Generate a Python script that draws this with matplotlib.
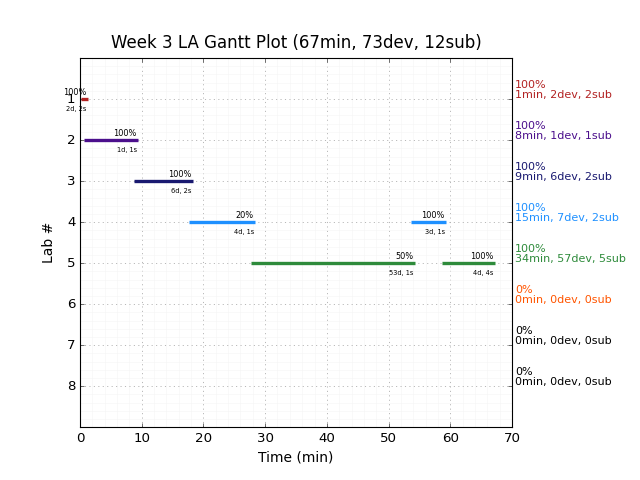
import matplotlib
matplotlib.use("Agg")
import matplotlib.pyplot as plt
from matplotlib.ticker import AutoMinorLocator

plt.style.use("classic")

title = "Week 3 LA Gantt Plot (67min, 73dev, 12sub)"
labs = [1, 2, 3, 4, 4, 5, 5]
starts = [0.2, 0.7, 8.8, 17.7, 53.6, 27.7, 58.7]
ends = [1.3, 9.4, 18.3, 28.4, 59.3, 54.3, 67.2]
pcts = ["100%", "100%", "100%", "20%", "100%", "50%", "100%"]
counts = ["2d, 2s", "1d, 1s", "6d, 2s", "4d, 1s", "3d, 1s", "53d, 1s", "4d, 4s"]

lab_colors = ["#b22222", "#4b0f8c", "#191970", "#1e90ff", "#2e8b3b",
              "#ff5500", "black", "black"]
side_pct = ["100%", "100%", "100%", "100%", "100%", "0%", "0%", "0%"]
side_info = ["1min, 2dev, 2sub", "8min, 1dev, 1sub", "9min, 6dev, 2sub",
             "15min, 7dev, 2sub", "34min, 57dev, 5sub", "0min, 0dev, 0sub",
             "0min, 0dev, 0sub", "0min, 0dev, 0sub"]

fig = plt.figure(figsize=(8, 6), dpi=80, facecolor="white")
ax = fig.add_axes([0.125, 0.11, 0.675, 0.769])

for lab, s, e, p, c in zip(labs, starts, ends, pcts, counts):
    col = lab_colors[lab - 1]
    ax.plot([s, e], [lab, lab], color=col, linewidth=3, solid_capstyle="butt")
    ax.text(e - 0.2, lab - 0.06, p, ha="right", va="bottom", fontsize=7.3)
    ax.text(e - 0.2, lab + 0.17, c, ha="right", va="top", fontsize=6)

for i in range(8):
    ax.text(70.5, i + 1 - 0.22, side_pct[i] + "\n" + side_info[i],
            color=lab_colors[i], ha="left", va="center", fontsize=10,
            linespacing=0.95)

ax.set_xlim(0, 70)
ax.set_ylim(9, 0)
ax.set_yticks(range(1, 9))
ax.set_xticks(range(0, 71, 10))
ax.xaxis.set_minor_locator(AutoMinorLocator())
ax.yaxis.set_minor_locator(AutoMinorLocator())
ax.tick_params(which="minor", length=0)
ax.grid(which="major", color="#b0b0b0", linestyle=":", linewidth=0.8)
ax.grid(which="minor", color="#f5f5f5", linestyle="-", linewidth=0.5)
ax.set_axisbelow(True)
ax.set_xlabel("Time (min)", fontsize=12.5)
ax.set_ylabel("Lab #", fontsize=12.5, labelpad=10)
ax.set_title(title, fontsize=15, pad=9)

fig.savefig("out.png", dpi=80, facecolor="white")
